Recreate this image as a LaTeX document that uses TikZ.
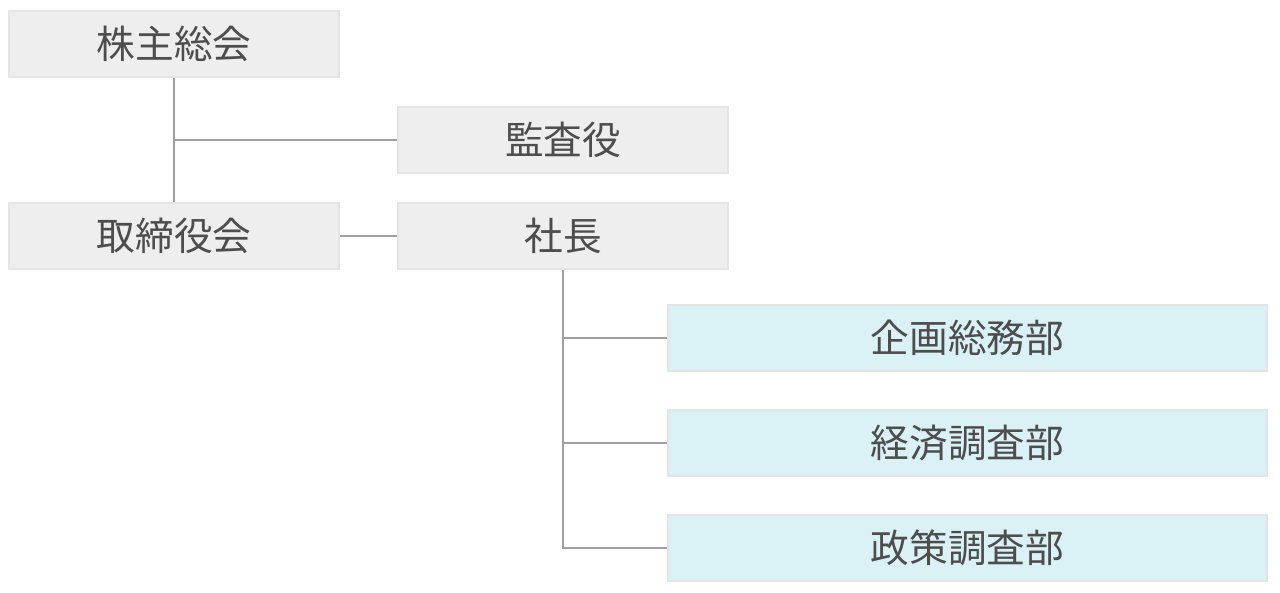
\documentclass[tikz,border=0pt]{standalone}
\usepackage{fontspec}
\newfontfamily\cjk{Noto Sans CJK JP}
\definecolor{graybox}{HTML}{EEEEEE}
\definecolor{bluebox}{HTML}{DAF1F5}
\definecolor{boxedge}{HTML}{E4E4E4}
\definecolor{linec}{HTML}{A0A0A0}
\definecolor{textc}{HTML}{4D4D4D}
\begin{document}
\begin{tikzpicture}[x=0.02cm,y=-0.02cm,
  box/.style={draw=boxedge,line width=0.6pt,fill=graybox,minimum width=330*0.02cm,minimum height=66*0.02cm,inner sep=0pt,text=textc,font=\cjk\fontsize{22pt}{24pt}\selectfont},
  dept/.style={box,fill=bluebox,minimum width=599*0.02cm},
  conn/.style={draw=linec,line width=0.7pt}]
\useasboundingbox (0,0) rectangle (1280,592);
\node[box] (kabu) at (174,44) {株主総会};
\node[box] (kansa) at (563,140) {監査役};
\node[box] (tori) at (174,236) {取締役会};
\node[box] (sha) at (563,236) {社長};
\node[dept] (kikaku) at (967.5,338) {企画総務部};
\node[dept] (keizai) at (967.5,443) {経済調査部};
\node[dept] (seisaku) at (967.5,548) {政策調査部};
\draw[conn] (kabu.south) -- (tori.north);
\draw[conn] (kabu.south |- kansa.west) -- (kansa.west);
\draw[conn] (tori.east) -- (sha.west);
\draw[conn] (sha.south) -- (sha.south |- seisaku.west) -- (seisaku.west);
\draw[conn] (sha.south |- kikaku.west) -- (kikaku.west);
\draw[conn] (sha.south |- keizai.west) -- (keizai.west);
\end{tikzpicture}
\end{document}
